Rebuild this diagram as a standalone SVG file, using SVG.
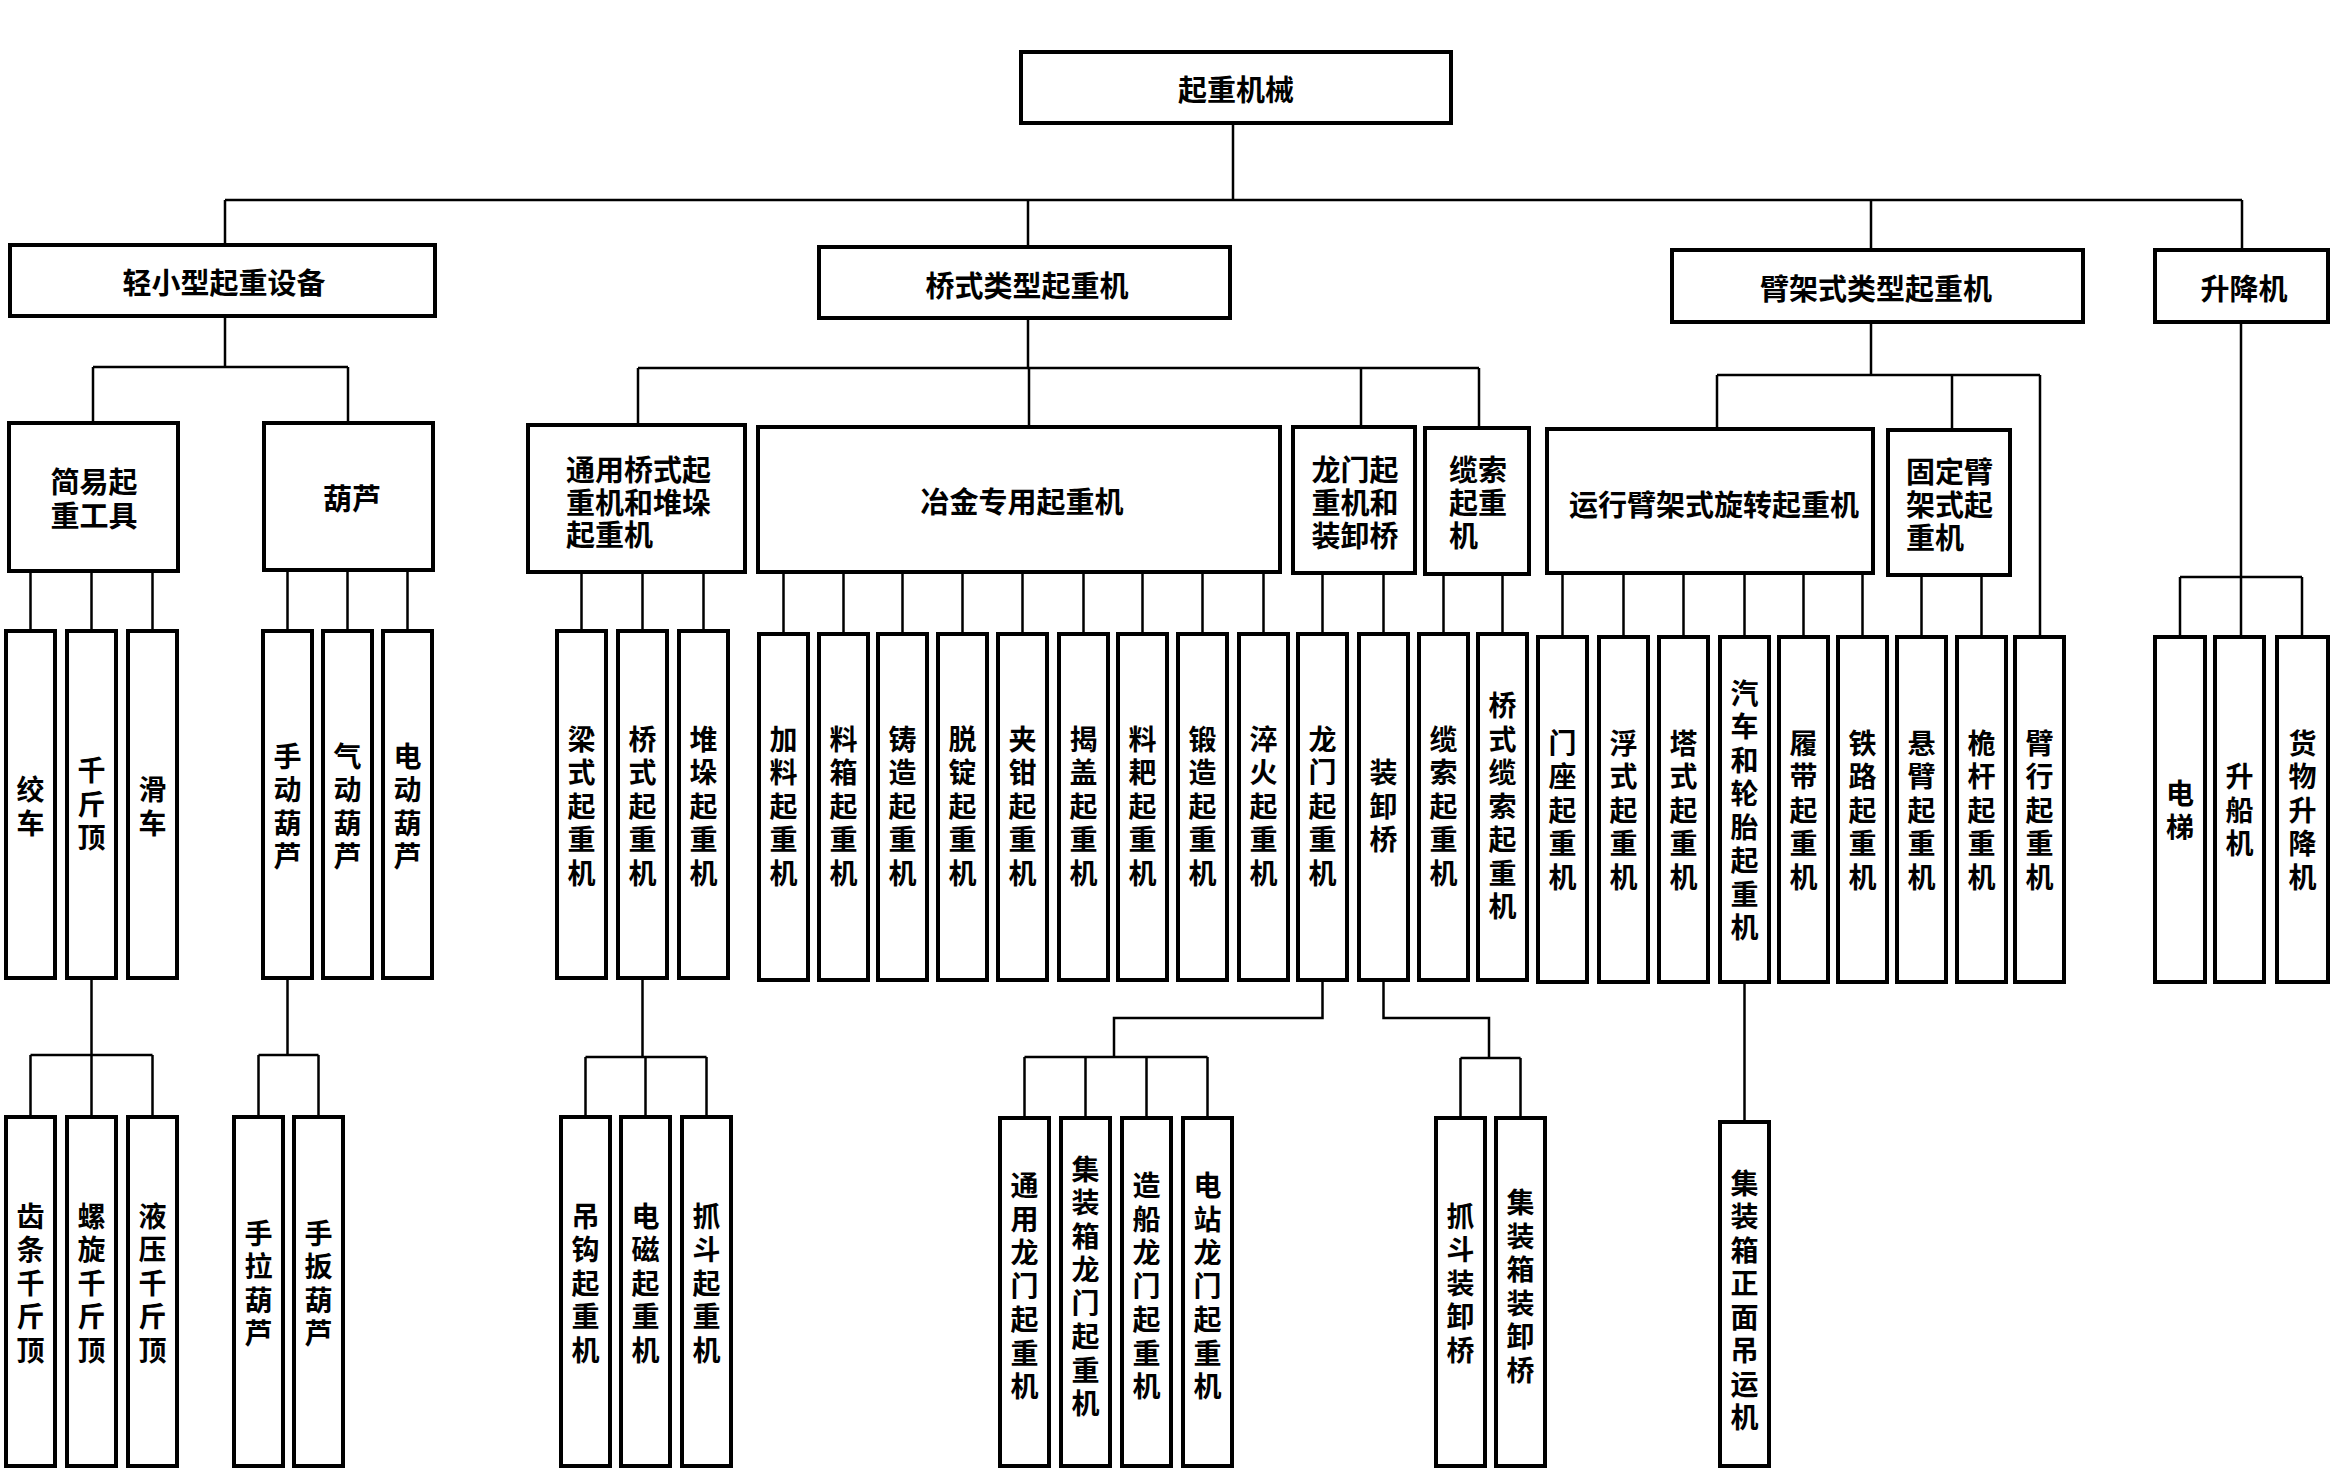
<svg xmlns="http://www.w3.org/2000/svg" width="2335" height="1470" viewBox="0 0 2335 1470">
<style>
.box{fill:#fff;stroke:#000;stroke-width:4}
.ln{fill:none;stroke:#000;stroke-width:2.5}
text{font-family:"Noto Sans CJK SC","Noto Sans",sans-serif;font-weight:bold;fill:#000;dominant-baseline:central}
.h{font-size:29px;text-anchor:middle}
.hl{font-size:29px;text-anchor:start}
.v{font-size:28px;text-anchor:middle;writing-mode:vertical-rl;text-orientation:upright;letter-spacing:5.5px}
</style>
<rect width="2335" height="1470" fill="#fff"/>
<g id="connectors">
<path class="ln" d="M1233 123V200M225 200H2242M225 200V245M1028 200V247M1871 200V250M2242 200V250"/>
<path class="ln" d="M225 316V367M93 367H348M93 367V423M348 367V423"/>
<path class="ln" d="M1028 318V368M638 368H1479M638 368V425M1029 368V427M1361 368V427M1479 368V428"/>
<path class="ln" d="M1871 322V375M1717 375H2040M1717 375V429M1952 375V430M2040 375V637"/>
<path class="ln" d="M2241 322V577M2180 577H2302M2180 577V637M2241 577V637M2302 577V637"/>
<path class="ln" d="M30.5 571V631M91.5 571V631M152.5 571V631M287.5 570V631M347.5 570V631M407.5 570V631M581.5 572V631M642.5 572V631M703.5 572V631"/>
<path class="ln" d="M783.5 572V634M843.5 572V634M902.5 572V634M962.5 572V634M1022.5 572V634M1083.5 572V634M1142.5 572V634M1202.5 572V634M1263.5 572V634M1322.5 573V634M1383.5 573V634M1443.5 574V634M1502.5 574V634"/>
<path class="ln" d="M1562.5 573V637M1623.5 573V637M1683.5 573V637M1744.5 573V637M1803.5 573V637M1862.5 573V637M1921.5 575V637M1981.5 575V637"/>
<path class="ln" d="M91.5 978V1117M30.5 1055H152.5M30.5 1055V1117M152.5 1055V1117"/>
<path class="ln" d="M287.5 978V1055M258.5 1055H318.5M258.5 1055V1117M318.5 1055V1117"/>
<path class="ln" d="M642.5 978V1057M585.5 1057H706.5M585.5 1057V1117M645.5 1057V1117M706.5 1057V1117"/>
<path class="ln" d="M1322.5 980V1018H1114V1057M1024.5 1057H1207.5M1024.5 1057V1118M1085.5 1057V1118M1146.5 1057V1118M1207.5 1057V1118"/>
<path class="ln" d="M1383.5 980V1018H1489V1058M1460.5 1058H1520.5M1460.5 1058V1118M1520.5 1058V1118"/>
<path class="ln" d="M1744.5 982V1122"/>
</g>
<g id="root"><rect class="box" x="1021" y="52" width="430" height="71"/><text class="h" x="1236" y="88">起重机械</text></g>
<g id="n-light"><rect class="box" x="10" y="245" width="425" height="71"/><text class="h" x="224" y="281">轻小型起重设备</text></g>
<g id="n-bridge"><rect class="box" x="819" y="247" width="411" height="71"/><text class="h" x="1027" y="284">桥式类型起重机</text></g>
<g id="n-jib"><rect class="box" x="1672" y="250" width="411" height="72"/><text class="h" x="1876" y="287">臂架式类型起重机</text></g>
<g id="n-lift"><rect class="box" x="2155" y="250" width="173" height="72"/><text class="h" x="2244" y="287">升降机</text></g>

<g id="n-simple"><rect class="box" x="9" y="423" width="169" height="148"/><text class="h" x="94" y="480">简易起</text><text class="h" x="94" y="514">重工具</text></g>
<g id="n-hoist"><rect class="box" x="264" y="423" width="169" height="147"/><text class="h" x="352" y="497">葫芦</text></g>
<g id="n-general"><rect class="box" x="528" y="425" width="217" height="147"/><text class="hl" x="566" y="468">通用桥式起</text><text class="hl" x="566" y="501">重机和堆垛</text><text class="hl" x="566" y="533">起重机</text></g>
<g id="n-metal"><rect class="box" x="758" y="427" width="522" height="145"/><text class="h" x="1022" y="500">冶金专用起重机</text></g>
<g id="n-gantry"><rect class="box" x="1293" y="427" width="122" height="146"/><text class="h" x="1355" y="468">龙门起</text><text class="h" x="1355" y="501">重机和</text><text class="h" x="1355" y="534">装卸桥</text></g>
<g id="n-cable"><rect class="box" x="1425" y="428" width="104" height="146"/><text class="hl" x="1449" y="468">缆索</text><text class="hl" x="1449" y="501">起重</text><text class="hl" x="1449" y="534">机</text></g>
<g id="n-mobile"><rect class="box" x="1547" y="429" width="326" height="144"/><text class="h" x="1714" y="503">运行臂架式旋转起重机</text></g>
<g id="n-fixed"><rect class="box" x="1888" y="430" width="122" height="145"/><text class="hl" x="1906" y="470">固定臂</text><text class="hl" x="1906" y="503">架式起</text><text class="hl" x="1906" y="536">重机</text></g>

<g id="l-a1"><rect class="box" x="6" y="631" width="49" height="347"/><text class="v" x="30.5" y="809">绞车</text></g>
<g id="l-a2"><rect class="box" x="67" y="631" width="49" height="347"/><text class="v" x="91.5" y="807">千斤顶</text></g>
<g id="l-a3"><rect class="box" x="128" y="631" width="49" height="347"/><text class="v" x="152.5" y="809">滑车</text></g>
<g id="l-a4"><rect class="box" x="263" y="631" width="49" height="347"/><text class="v" x="287.5" y="809">手动葫芦</text></g>
<g id="l-a5"><rect class="box" x="323" y="631" width="49" height="347"/><text class="v" x="347.5" y="809">气动葫芦</text></g>
<g id="l-a6"><rect class="box" x="383" y="631" width="49" height="347"/><text class="v" x="407.5" y="809">电动葫芦</text></g>
<g id="l-a7"><rect class="box" x="557" y="631" width="49" height="347"/><text class="v" x="581.5" y="809">梁式起重机</text></g>
<g id="l-a8"><rect class="box" x="618" y="631" width="49" height="347"/><text class="v" x="642.5" y="809">桥式起重机</text></g>
<g id="l-a9"><rect class="box" x="679" y="631" width="49" height="347"/><text class="v" x="703.5" y="809">堆垛起重机</text></g>

<g id="l-b1"><rect class="box" x="759" y="634" width="49" height="346"/><text class="v" x="783.5" y="809">加料起重机</text></g>
<g id="l-b2"><rect class="box" x="819" y="634" width="49" height="346"/><text class="v" x="843.5" y="809">料箱起重机</text></g>
<g id="l-b3"><rect class="box" x="878" y="634" width="49" height="346"/><text class="v" x="902.5" y="809">铸造起重机</text></g>
<g id="l-b4"><rect class="box" x="938" y="634" width="49" height="346"/><text class="v" x="962.5" y="809">脱锭起重机</text></g>
<g id="l-b5"><rect class="box" x="998" y="634" width="49" height="346"/><text class="v" x="1022.5" y="809">夹钳起重机</text></g>
<g id="l-b6"><rect class="box" x="1059" y="634" width="49" height="346"/><text class="v" x="1083.5" y="809">揭盖起重机</text></g>
<g id="l-b7"><rect class="box" x="1118" y="634" width="49" height="346"/><text class="v" x="1142.5" y="809">料耙起重机</text></g>
<g id="l-b8"><rect class="box" x="1178" y="634" width="49" height="346"/><text class="v" x="1202.5" y="809">锻造起重机</text></g>
<g id="l-b9"><rect class="box" x="1239" y="634" width="49" height="346"/><text class="v" x="1263.5" y="809">淬火起重机</text></g>
<g id="l-b10"><rect class="box" x="1298" y="634" width="49" height="346"/><text class="v" x="1322.5" y="809">龙门起重机</text></g>
<g id="l-b11"><rect class="box" x="1359" y="634" width="49" height="346"/><text class="v" x="1383.5" y="809">装卸桥</text></g>
<g id="l-b12"><rect class="box" x="1419" y="634" width="49" height="346"/><text class="v" x="1443.5" y="809">缆索起重机</text></g>
<g id="l-b13"><rect class="box" x="1478" y="634" width="49" height="346"/><text class="v" x="1502.5" y="809">桥式缆索起重机</text></g>

<g id="l-c1"><rect class="box" x="1538" y="637" width="49" height="345"/><text class="v" x="1562.5" y="813">门座起重机</text></g>
<g id="l-c2"><rect class="box" x="1599" y="637" width="49" height="345"/><text class="v" x="1623.5" y="813">浮式起重机</text></g>
<g id="l-c3"><rect class="box" x="1659" y="637" width="49" height="345"/><text class="v" x="1683.5" y="813">塔式起重机</text></g>
<g id="l-c4"><rect class="box" x="1720" y="637" width="49" height="345"/><text class="v" x="1744.5" y="813">汽车和轮胎起重机</text></g>
<g id="l-c5"><rect class="box" x="1779" y="637" width="49" height="345"/><text class="v" x="1803.5" y="813">履带起重机</text></g>
<g id="l-c6"><rect class="box" x="1838" y="637" width="49" height="345"/><text class="v" x="1862.5" y="813">铁路起重机</text></g>
<g id="l-c7"><rect class="box" x="1897" y="637" width="49" height="345"/><text class="v" x="1921.5" y="813">悬臂起重机</text></g>
<g id="l-c8"><rect class="box" x="1957" y="637" width="49" height="345"/><text class="v" x="1981.5" y="813">桅杆起重机</text></g>
<g id="l-c9"><rect class="box" x="2015" y="637" width="49" height="345"/><text class="v" x="2039.5" y="813">臂行起重机</text></g>
<g id="l-c10"><rect class="box" x="2155" y="637" width="50" height="345"/><text class="v" x="2180" y="813">电梯</text></g>
<g id="l-c11"><rect class="box" x="2215" y="637" width="49" height="345"/><text class="v" x="2239.5" y="813">升船机</text></g>
<g id="l-c12"><rect class="box" x="2277" y="637" width="51" height="345"/><text class="v" x="2302.5" y="813">货物升降机</text></g>

<g id="l-d1"><rect class="box" x="6" y="1117" width="49" height="349"/><text class="v" x="30.5" y="1286">齿条千斤顶</text></g>
<g id="l-d2"><rect class="box" x="67" y="1117" width="49" height="349"/><text class="v" x="91.5" y="1286">螺旋千斤顶</text></g>
<g id="l-d3"><rect class="box" x="128" y="1117" width="49" height="349"/><text class="v" x="152.5" y="1286">液压千斤顶</text></g>
<g id="l-d4"><rect class="box" x="234" y="1117" width="49" height="349"/><text class="v" x="258.5" y="1286">手拉葫芦</text></g>
<g id="l-d5"><rect class="box" x="294" y="1117" width="49" height="349"/><text class="v" x="318.5" y="1286">手扳葫芦</text></g>
<g id="l-d6"><rect class="box" x="561" y="1117" width="49" height="349"/><text class="v" x="585.5" y="1286">吊钩起重机</text></g>
<g id="l-d7"><rect class="box" x="621" y="1117" width="49" height="349"/><text class="v" x="645.5" y="1286">电磁起重机</text></g>
<g id="l-d8"><rect class="box" x="682" y="1117" width="49" height="349"/><text class="v" x="706.5" y="1286">抓斗起重机</text></g>

<g id="l-e1"><rect class="box" x="1000" y="1118" width="49" height="348"/><text class="v" x="1024.5" y="1289">通用龙门起重机</text></g>
<g id="l-e2"><rect class="box" x="1061" y="1118" width="49" height="348"/><text class="v" x="1085.5" y="1289">集装箱龙门起重机</text></g>
<g id="l-e3"><rect class="box" x="1122" y="1118" width="49" height="348"/><text class="v" x="1146.5" y="1289">造船龙门起重机</text></g>
<g id="l-e4"><rect class="box" x="1183" y="1118" width="49" height="348"/><text class="v" x="1207.5" y="1289">电站龙门起重机</text></g>
<g id="l-e5"><rect class="box" x="1436" y="1118" width="49" height="348"/><text class="v" x="1460.5" y="1286">抓斗装卸桥</text></g>
<g id="l-e6"><rect class="box" x="1496" y="1118" width="49" height="348"/><text class="v" x="1520.5" y="1289">集装箱装卸桥</text></g>
<g id="l-f1"><rect class="box" x="1720" y="1122" width="49" height="344"/><text class="v" x="1744.5" y="1303">集装箱正面吊运机</text></g>
</svg>
